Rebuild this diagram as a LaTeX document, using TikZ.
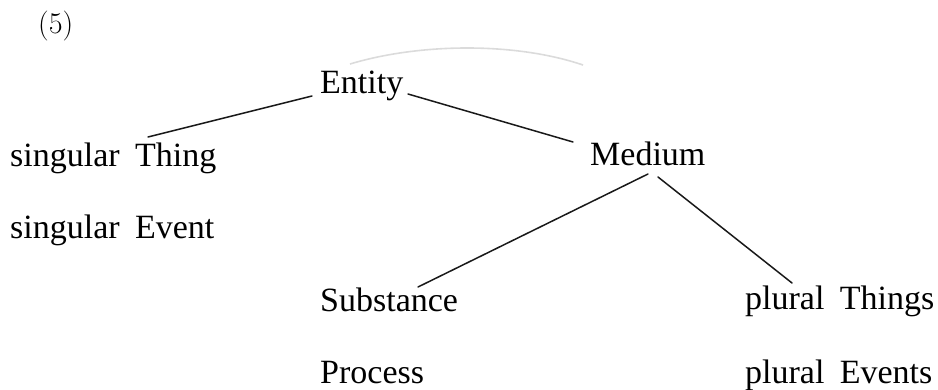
\documentclass[tikz,border=0pt]{standalone}
\usepackage{fontspec}
\newfontfamily\labelfont[WordSpace=1.8]{Liberation Serif}
\begin{document}
\begin{tikzpicture}[x=1pt,y=-1pt,
  term/.style={inner sep=0pt, anchor=base west,
    font=\labelfont\fontsize{34}{40}\selectfont},
  branch/.style={line width=1.5pt, line cap=round, black!90},
  faint/.style={line width=1.6pt, black!14}]
\useasboundingbox (0,0) rectangle (938,390);

% example number
\node[inner sep=0pt, anchor=base west, font=\fontsize{30}{36}\selectfont] (num) at (38,34) {(5)};

% tree terms
\node[term] (entity)  at (320,94)  {Entity};
\node[term] (sthing)  at (10,167)  {singular Thing};
\node[term] (sevent)  at (10,239)  {singular Event};
\node[term] (medium)  at (590,166) {Medium};
\node[term] (subst)   at (320,312) {Substance};
\node[term] (proc)    at (320,384) {Process};
\node[term] (pthings) at (745,310) {plural Things};
\node[term] (pevents) at (745,383) {plural Events};

% faint arc above the root
\draw[faint] (350,64) .. controls (420,43) and (515,42) .. (583,65);

% branches
\draw[branch] ([xshift=-8pt,yshift=-2pt]entity.base west) -- ([xshift=138pt,yshift=30pt]sthing.base west);
\draw[branch] ([xshift=88pt]entity.base west) -- ([xshift=-17pt,yshift=24pt]medium.base west);
\draw[branch] ([xshift=58pt,yshift=-8pt]medium.base west) -- ([xshift=98pt,yshift=25pt]subst.base west);
\draw[branch] ([xshift=68pt,yshift=-11pt]medium.base west) -- ([xshift=47pt,yshift=27pt]pthings.base west);
\end{tikzpicture}
\end{document}
